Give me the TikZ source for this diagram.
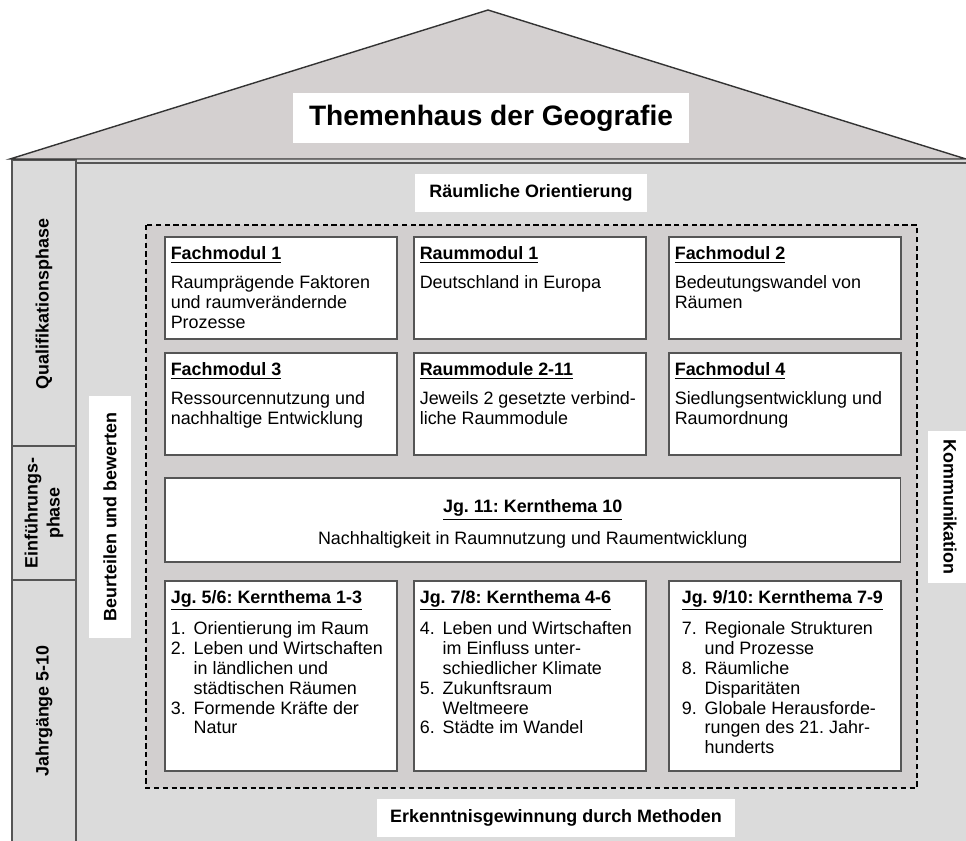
\documentclass[tikz,border=0pt]{standalone}
\usepackage{fontspec}
\setmainfont{Liberation Sans}
\usepackage{tikz}
\frenchspacing
\definecolor{dach}{RGB}{212,208,208}
\definecolor{wand}{RGB}{219,219,219}
\definecolor{innen}{RGB}{210,207,207}
\definecolor{rahmen}{RGB}{85,85,85}
\tikzset{
	modul/.style={draw=rahmen, line width=0.9pt, fill=white, anchor=north west, inner xsep=0.12cm, inner ysep=0pt, font=\fontsize{10.2pt}{11.3pt}\selectfont},
	etikett/.style={fill=white, inner sep=0pt, font=\bfseries\fontsize{10.2pt}{11.3pt}\selectfont},
	phase/.style={rotate=90, align=center, font=\bfseries\fontsize{10.2pt}{12.5pt}\selectfont},
}
\newcommand{\modtext}[3][2.04cm]{% [hoehe]{titel}{text}
	\parbox[c][#1][t]{4.40cm}{\vspace*{5pt}\strut\textbf{\underline{#2}}\par\vspace{5.2pt}#3}%
}
\newcommand{\punkt}[2]{\par\hangindent=13pt\hangafter=1\makebox[13pt][l]{#1}#2}

\begin{document}
\begin{tikzpicture}[x=0.02cm, y=-0.02cm]
	\useasboundingbox (0,0) rectangle (966,841);
	% Haus
	\fill[wand] (12,160) rectangle (966,841);
	\draw[rahmen, line width=0.9pt] (12,841) -- (12,160) -- (76,160) -- (76,841);
	\draw[rahmen, line width=0.9pt] (76,163) -- (966,163);
	\draw[rahmen, line width=0.9pt] (12,446) -- (76,446) (12,580) -- (76,580);
	\filldraw[fill=dach, draw=black!80, line width=0.8pt] (10,159) -- (488,10) -- (966,159) -- cycle;

	\fill[innen] (146,225) rectangle (917,788);
	\draw[line width=0.6pt, dash pattern=on 3pt off 2pt] (146,225) rectangle (917,788);

	\node[etikett, minimum width=7.94cm, minimum height=1cm, font=\bfseries\fontsize{16pt}{18pt}\selectfont] (titel) at (491,118) {Themenhaus der Geografie};
	\node[etikett, minimum width=4.66cm, minimum height=0.76cm] (orient) at (531,193) {Räumliche Orientierung};
	\node[etikett, minimum width=7.16cm, minimum height=0.76cm] (methoden) at (556,818) {Erkenntnisgewinnung durch Methoden};
	\node[etikett, rotate=90, minimum width=4.84cm, minimum height=0.86cm] (urteil) at (110,517) {Beurteilen und bewerten};
	\node[etikett, rotate=-90, minimum width=3.06cm, minimum height=0.9cm] (komm) at (950,507) {Kommunikation};

	\node[phase] (quali) at (44,304) {Qualifikationsphase};
	\node[phase] (einf) at (44,513) {Einführungs-\\phase};
	\node[phase] (jg) at (44,711) {Jahrgänge 5-10};

	% Module
	\node[modul] (fm1) at (164,236) {\modtext{Fachmodul 1}{Raumprägende Faktoren\\und raumverändernde\\Prozesse}};
	\node[modul] (rm1) at (413,236) {\modtext{Raummodul 1}{Deutschland in Europa}};
	\node[modul] (fm2) at (668,236) {\modtext{Fachmodul 2}{Bedeutungswandel von\\Räumen}};
	\node[modul] (fm3) at (164,352) {\modtext{Fachmodul 3}{Ressourcennutzung und\\nachhaltige Entwicklung}};
	\node[modul] (rm2) at (413,352) {\modtext{Raummodule 2-11}{Jeweils 2 gesetzte verbind-\\liche Raummodule}};
	\node[modul] (fm4) at (668,352) {\modtext{Fachmodul 4}{Siedlungsentwicklung und\\Raumordnung}};
	\node[modul] (kt10) at (164,477) {\parbox[c][1.68cm][t]{14.48cm}{\centering\vspace*{12pt}\strut\textbf{\underline{Jg. 11: Kernthema 10}}\par\vspace{5.7pt}Nachhaltigkeit in Raumnutzung und Raumentwicklung}};

	% Kernthemen
	\node[modul] (kt1) at (164,580) {\modtext[3.8cm]{Jg. 5/6: Kernthema 1-3}{\punkt{1.}{Orientierung im Raum}\punkt{2.}{Leben und Wirtschaften\\in ländlichen und\\städtischen Räumen}\punkt{3.}{Formende Kräfte der\\Natur}}};
	\node[modul] (kt4) at (413,580) {\modtext[3.8cm]{Jg. 7/8: Kernthema 4-6}{\punkt{4.}{Leben und Wirtschaften\\im Einfluss unter-\\schiedlicher Klimate}\punkt{5.}{Zukunftsraum\\Weltmeere}\punkt{6.}{Städte im Wandel}}};
	\node[modul, inner xsep=0.26cm] (kt7) at (668,580) {\parbox[c][3.8cm][t]{4.12cm}{\vspace*{5pt}\strut\textbf{\underline{Jg. 9/10: Kernthema 7-9}}\par\vspace{5.2pt}\punkt{7.}{Regionale Strukturen\\und Prozesse}\punkt{8.}{Räumliche\\Disparitäten}\punkt{9.}{Globale Herausforde-\\rungen des 21. Jahr-\\hunderts}}};
\end{tikzpicture}
\end{document}
